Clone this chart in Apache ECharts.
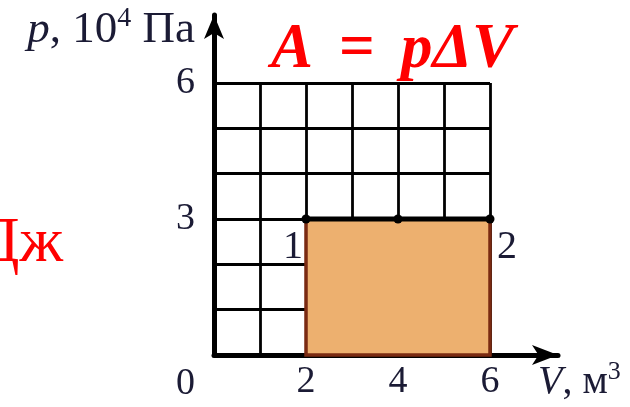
<!DOCTYPE html>
<html>
<head>
<meta charset="utf-8">
<script src="https://cdn.jsdelivr.net/npm/echarts@6/dist/echarts.min.js"></script>
<style>
  html, body { margin: 0; padding: 0; background: #fff; }
  #chart { width: 630px; height: 407px; }
</style>
</head>
<body>
<div id="chart"></div>
<script>
// p-V диаграмма: изобарный процесс 1 -> 2
const vLabels = [2, 4, 6]        // подписи на оси V
const pLabels = [0, 3, 6]        // подписи на оси p
const processV = [2, 4, 6]       // точки процесса, м^3
const processP = [3, 3, 3]       // давление, 10^4 Па
const pointNames = ['1', '', '2']
const workRect = [[processV[0], 0, processV[processV.length - 1], processP[0]]]

const serif = 'Liberation Serif'
const ink = '#1b1b35'
const red = '#ff0000'
const formulaFont = { fontFamily: serif, fontSize: 63, fontWeight: 'bold', fontStyle: 'italic', color: red }

const chart = echarts.init(document.getElementById('chart'))

const option = {
  animation: false,
  title: {
    text: '{a|A}{e|=}{a|pΔV}',
    left: 266,
    top: 14,
    textStyle: {
      ...formulaFont,
      rich: {
        a: formulaFont,
        e: { ...formulaFont, fontStyle: 'normal', padding: [0, 26, 0, 26] }
      }
    }
  },
  graphic: [{
    type: 'text',
    x: 63,
    y: 244,
    style: {
      text: 'Дж',
      font: '63px "Liberation Serif"',
      fill: red,
      align: 'right',
      verticalAlign: 'middle'
    }
  }],
  grid: [
    { left: 214, right: 140, top: 83, bottom: 52 },
    { left: 214, right: 72, top: 15, bottom: 52 }
  ],
  xAxis: [{
    gridIndex: 0,
    type: 'value',
    min: 0,
    max: 6,
    interval: 1,
    axisLine: { show: false },
    axisTick: { show: false },
    splitLine: { lineStyle: { color: '#000', width: 2.8 } },
    axisLabel: {
      margin: 8,
      fontFamily: serif,
      fontSize: 38,
      color: ink,
      formatter: v => (vLabels.includes(v) ? String(v) : '')
    },
    name: '{i|V}, м{s|3}',
    nameLocation: 'end',
    nameGap: 48,
    nameTextStyle: {
      align: 'left',
      verticalAlign: 'middle',
      padding: [54, 0, 0, 0],
      fontFamily: serif,
      fontSize: 40,
      color: ink,
      rich: {
        i: { fontFamily: serif, fontSize: 40, fontStyle: 'italic', color: ink },
        s: { fontFamily: serif, fontSize: 26, color: ink, padding: [0, 0, 20, 0] }
      }
    }
  }, {
    gridIndex: 1,
    type: 'value',
    min: 0,
    max: 1,
    axisLine: {
      lineStyle: { color: '#000', width: 5 },
      symbol: ['none', 'arrow'],
      symbolSize: [15, 26]
    },
    axisTick: { show: false },
    axisLabel: { show: false },
    splitLine: { show: false }
  }],
  yAxis: [{
    gridIndex: 0,
    type: 'value',
    min: 0,
    max: 6,
    interval: 1,
    axisLine: { show: false },
    axisTick: { show: false },
    splitLine: { lineStyle: { color: '#000', width: 2.8 } },
    axisLabel: {
      margin: 19,
      fontFamily: serif,
      fontSize: 38,
      color: ink,
      formatter: v => {
        if (!pLabels.includes(v)) return ''
        return v === 0 ? '{z|0}' : String(v)
      },
      rich: {
        z: { fontFamily: serif, fontSize: 38, color: ink, padding: [58, 0, 0, 0] }
      }
    },
    name: '{i|p}, 10{s|4} Па',
    nameLocation: 'end',
    nameGap: 53,
    nameTextStyle: {
      align: 'right',
      verticalAlign: 'middle',
      padding: [0, 19, 0, 0],
      fontFamily: serif,
      fontSize: 45,
      color: ink,
      rich: {
        i: { fontFamily: serif, fontSize: 45, fontStyle: 'italic', color: ink },
        s: { fontFamily: serif, fontSize: 28, color: ink, padding: [0, 0, 22, 0] }
      }
    }
  }, {
    gridIndex: 1,
    type: 'value',
    min: 0,
    max: 1,
    axisLine: {
      lineStyle: { color: '#000', width: 5 },
      symbol: ['none', 'arrow'],
      symbolSize: [15, 24]
    },
    axisTick: { show: false },
    axisLabel: { show: false },
    splitLine: { show: false }
  }],
  series: [{
    // работа газа — площадь под графиком
    type: 'custom',
    xAxisIndex: 0,
    yAxisIndex: 0,
    data: workRect,
    renderItem: (params, api) => {
      const a = api.coord([api.value(0), api.value(1)])
      const b = api.coord([api.value(2), api.value(3)])
      return {
        type: 'rect',
        shape: { x: a[0], y: b[1], width: b[0] - a[0], height: a[1] - b[1] },
        style: { fill: '#edb06f', stroke: '#7a2a12', lineWidth: 3.5 }
      }
    }
  }, {
    type: 'line',
    xAxisIndex: 0,
    yAxisIndex: 0,
    data: processV.map((v, i) => ({
      value: [v, processP[i]],
      label: {
        show: pointNames[i] !== '',
        formatter: pointNames[i],
        offset: i === 0 ? [-13, 0] : [17, 0]
      }
    })),
    symbol: 'circle',
    symbolSize: 9,
    lineStyle: { color: '#000', width: 5 },
    itemStyle: { color: '#000' },
    label: {
      position: 'bottom',
      distance: 4,
      fontFamily: serif,
      fontSize: 40,
      color: ink
    },
    z: 5
  }]
}

chart.setOption(option)
</script>
</body>
</html>
